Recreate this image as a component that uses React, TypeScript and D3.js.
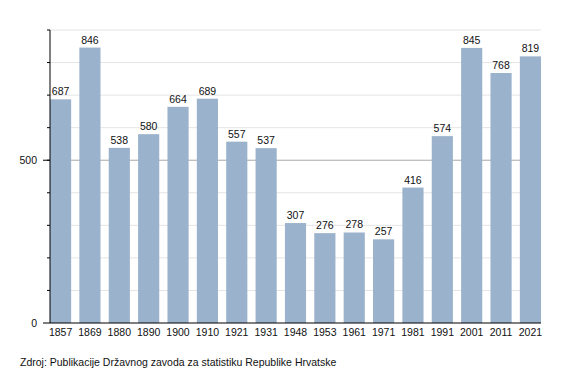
import React from 'react';
import * as d3 from 'd3';

const years = ['1857', '1869', '1880', '1890', '1900', '1910', '1921', '1931', '1948', '1953', '1961', '1971', '1981', '1991', '2001', '2011', '2021'];
const population = [687, 846, 538, 580, 664, 689, 557, 537, 307, 276, 278, 257, 416, 574, 845, 768, 819];
const majorTicks = [0, 500];
const gridTicks = [100, 200, 300, 400, 500, 600, 700, 800, 900];
const source = 'Zdroj: Publikacije Državnog zavoda za statistiku Republike Hrvatske';

const W = 570;
const H = 373;
const left = 50;
const right = 541;
const top = 30;
const bottom = 323;
const font = '"Liberation Sans", Arial, sans-serif';

const App = () => {
  const x = d3.scaleBand<string>().domain(years).range([left, right]).paddingInner(0.28).paddingOuter(0);
  const y = d3.scaleLinear().domain([0, 900]).range([bottom, top]);

  return (
    <svg width={W} height={H} style={{ position: 'absolute', left: 0, top: 0 }} fontFamily={font}>
      {gridTicks.map(t => (
        <line key={'g' + t} x1={left} x2={right} y1={y(t)} y2={y(t)} stroke={t === 500 ? '#a8a8a8' : '#e4e4e4'} strokeWidth={1} />
      ))}
      {years.map((yr, i) => (
        <rect key={yr} x={x(yr)} y={y(population[i])} width={x.bandwidth()} height={bottom - y(population[i])} fill="#9ab2cb" />
      ))}
      {years.map((yr, i) => (
        <text key={'v' + yr} x={(x(yr) as number) + x.bandwidth() / 2} y={y(population[i]) - 4} textAnchor="middle" fontSize={10.5} fill="#111">
          {population[i]}
        </text>
      ))}
      <line x1={left} x2={left} y1={top} y2={bottom} stroke="#000" strokeWidth={1} />
      <line x1={left} x2={right} y1={bottom} y2={bottom} stroke="#000" strokeWidth={1} />
      {gridTicks.map(t => (
        <line key={'t' + t} x1={left - 3} x2={left} y1={y(t)} y2={y(t)} stroke="#000" strokeWidth={1} />
      ))}
      {majorTicks.map(t => (
        <g key={'m' + t}>
          <line x1={left - 7} x2={left} y1={y(t)} y2={y(t)} stroke="#000" strokeWidth={1} />
          <text x={37} y={y(t) + 4} textAnchor="end" fontSize={10.5} fill="#111">{t}</text>
        </g>
      ))}
      {years.map(yr => (
        <text key={'x' + yr} x={(x(yr) as number) + x.bandwidth() / 2} y={335.5} textAnchor="middle" fontSize={10.5} fill="#111">
          {yr}
        </text>
      ))}
      <text x={20} y={366} fontSize={10.5} fill="#111">{source}</text>
    </svg>
  );
};

export default App;
